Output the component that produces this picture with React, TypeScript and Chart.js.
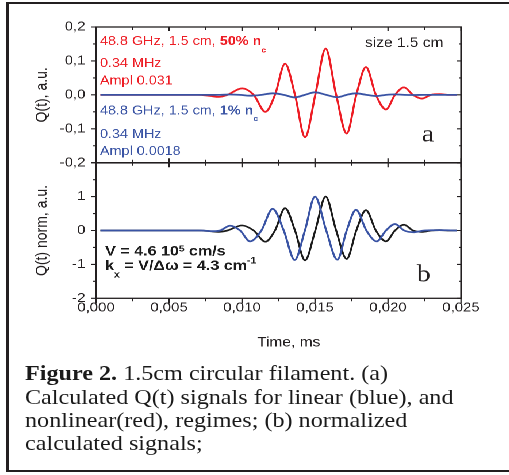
import React, { useEffect, useRef } from "react";
import { Chart, registerables } from "chart.js";

Chart.register(...registerables);

// ---------- data (time in ms) ----------
const tRed = [0.0003, 0.007, 0.0078, 0.0084, 0.009, 0.01, 0.0108, 0.0116, 0.01226, 0.01295, 0.01363, 0.01432, 0.01502, 0.01573, 0.01645, 0.01717, 0.01783, 0.01849, 0.01917, 0.01986, 0.02048, 0.0211, 0.02171, 0.02233, 0.02295, 0.02356, 0.0241, 0.0247];
const qRed = [0, 0, -0.003, -0.006, 0, 0.019, 0, -0.05, 0, 0.092, 0, -0.125, 0, 0.136, 0, -0.114, 0, 0.082, 0, -0.043, 0, 0.022, 0, -0.011, 0, 0.002, 0, 0];
const qBlackNorm = [0, 0, -0.02, -0.04, 0, 0.15, 0, -0.33, 0, 0.66, 0, -0.88, 0, 1.0, 0, -0.84, 0, 0.6, 0, -0.32, 0, 0.17, 0, -0.04, 0, 0.01, 0, 0];

const tBlue = [0.0003, 0.0072, 0.008, 0.0085, 0.00918, 0.00987, 0.01055, 0.01133, 0.0121, 0.01286, 0.01361, 0.01431, 0.015, 0.01577, 0.01653, 0.01717, 0.01781, 0.01852, 0.01923, 0.01986, 0.02048, 0.02111, 0.02173, 0.0225, 0.0235, 0.0247];
const qBlue = [0, 0, 0, 0, 0.001, 0, -0.0025, 0, 0.0045, 0, -0.0075, 0, 0.0075, 0, -0.007, 0, 0.0045, 0, -0.0035, 0, 0.0015, 0, -0.0005, 0, 0, 0];
const qBlueNorm = [0, 0, -0.02, 0, 0.14, 0, -0.32, 0, 0.64, 0, -0.87, 0, 1.0, 0, -0.86, 0, 0.61, 0, -0.32, 0, 0.19, 0, -0.05, 0, 0.01, 0];

// ---------- axes ----------
const xRange = [0, 0.025];
const xMajor = 0.005;
const xMinor = 0.0025;
const yARange = [-0.2, 0.2];
const yAMajor = 0.1;
const yAMinor = 0.05;
const yBRange = [-2, 2];
const yBMajor = 1;
const yBMinor = 0.5;

const xTitle = "Time, ms";
const yATitle = "Q(t), a.u.";
const yBTitle = "Q(t) norm, a.u.";

const captionBold = "Figure 2.";
const captionLines = [
  " 1.5cm circular filament. (a)",
  "Calculated Q(t) signals for linear (blue), and",
  "nonlinear(red), regimes; (b) normalized",
  "calculated signals;",
];

// ---------- style ----------
const S = 1.15; // horizontal stretch of the figure
const W = 443;
const L = 96 / S;
const R = 461 / S;
const RED = "#ed1c24";
const BLUE = "#3953a4";
const BLACK = "#1a1a1a";
const AXIS = "#231f20";
const FONT = '"Liberation Sans", Arial, Helvetica, sans-serif';
const SERIF = '"Liberation Serif", "Times New Roman", Times, serif';

type Run = { t: string; b?: boolean; sub?: boolean; sup?: boolean };
type Note = {
  x: number; y?: number; below?: number; runs: Run[]; size: number; color: string;
  family?: string; baseline?: CanvasTextBaseline; align?: CanvasTextAlign;
  subDy?: number; supDy?: number; small?: number;
};

function notesPlugin(notes: Note[]) {
  return {
    id: "notes",
    afterDatasetsDraw(chart: any) {
      const ctx = chart.ctx as CanvasRenderingContext2D;
      const xs = chart.scales.x, ys = chart.scales.y;
      ctx.save();
      for (const n of notes) {
        let cx = xs.getPixelForValue(n.x);
        const cy = n.below !== undefined ? chart.chartArea.bottom + n.below : ys.getPixelForValue(n.y);
        ctx.fillStyle = n.color;
        ctx.textBaseline = n.baseline ?? "middle";
        if (n.align === "center") {
          let tw = 0;
          for (const r of n.runs) {
            ctx.font = `${r.b ? "bold " : ""}${n.size}px ${n.family ?? FONT}`;
            tw += ctx.measureText(r.t).width;
          }
          cx -= tw / 2;
        }
        ctx.textAlign = "left";
        for (const r of n.runs) {
          const small = r.sub || r.sup;
          const fs = small ? n.size * (n.small ?? 0.62) : n.size;
          ctx.font = `${r.b ? "bold " : ""}${fs}px ${n.family ?? FONT}`;
          const dy = r.sub ? n.size * (n.subDy ?? 0.6) : r.sup ? -n.size * (n.supDy ?? 0.25) : 0;
          ctx.fillText(r.t, cx, cy + dy);
          cx += ctx.measureText(r.t).width;
        }
      }
      ctx.restore();
    },
  };
}

type Side = { dir: "in" | "out" | "cross"; maj: number; min: number };
type FrameSpec = { left?: Side; right?: Side; top?: Side; bottom?: Side };

function values(min: number, max: number, step: number) {
  const out: number[] = [];
  const n = Math.round((max - min) / step);
  for (let i = 0; i <= n; i++) out.push(min + i * step);
  return out;
}
function isMajor(v: number, step: number) {
  const k = v / step;
  return Math.abs(k - Math.round(k)) < 1e-6;
}

function framePlugin(spec: FrameSpec, xs: [number, number, number, number], ysSteps: [number, number, number, number]) {
  return {
    id: "frame",
    afterDatasetsDraw(chart: any) {
      const ctx = chart.ctx as CanvasRenderingContext2D;
      const a = chart.chartArea;
      const sx = chart.scales.x, sy = chart.scales.y;
      ctx.save();
      ctx.strokeStyle = AXIS;
      ctx.lineWidth = 1.3;
      ctx.strokeRect(a.left, a.top, a.right - a.left, a.bottom - a.top);
      ctx.lineWidth = 1.1;
      ctx.beginPath();
      const xv = values(xs[0], xs[1], xs[3]);
      const yv = values(ysSteps[0], ysSteps[1], ysSteps[3]);
      const hor = (side: Side | undefined, yPos: number, outSign: number) => {
        if (!side) return;
        for (const v of xv) {
          const px = sx.getPixelForValue(v);
          const len = isMajor(v, xs[2]) ? side.maj : side.min;
          let y0 = yPos, y1 = yPos;
          if (side.dir === "out") y1 = yPos + outSign * len;
          else if (side.dir === "in") y1 = yPos - outSign * len;
          else { y0 = yPos - len; y1 = yPos + len; }
          ctx.moveTo(px, y0); ctx.lineTo(px, y1);
        }
      };
      const ver = (side: Side | undefined, xPos: number, outSign: number) => {
        if (!side) return;
        for (const v of yv) {
          const py = sy.getPixelForValue(v);
          const len = (isMajor(v, ysSteps[2]) ? side.maj : side.min) / S;
          let x0 = xPos, x1 = xPos;
          if (side.dir === "out") x1 = xPos + outSign * len;
          else if (side.dir === "in") x1 = xPos - outSign * len;
          else { x0 = xPos - len; x1 = xPos + len; }
          ctx.moveTo(x0, py); ctx.lineTo(x1, py);
        }
      };
      hor(spec.top, a.top, -1);
      hor(spec.bottom, a.bottom, 1);
      ver(spec.left, a.left, -1);
      ver(spec.right, a.right, 1);
      ctx.stroke();
      ctx.restore();
    },
  };
}

const pts = (t: number[], q: number[]) => t.map((x, i) => ({ x, y: q[i] }));

const lineDs = (data: { x: number; y: number }[], color: string, width: number) => ({
  data,
  borderColor: color,
  borderWidth: width,
  pointRadius: 0,
  fill: false,
  cubicInterpolationMode: "monotone" as const,
});

const tickFont = { family: FONT, size: 13 };
const titleFont = { family: FONT, size: 14 };

export default function App() {
  const refA = useRef<HTMLCanvasElement>(null);
  const refB = useRef<HTMLCanvasElement>(null);

  useEffect(() => {
    const hA = 175;
    const hB = 215;
    const topB = 150;

    const annA: Note[] = [
      { x: 0.00027, y: 0.1567, size: 12.5, color: RED, subDy: 0.68, small: 0.6,
        runs: [{ t: "48.8 GHz, 1.5 cm, " }, { t: "50% n", b: true }, { t: "c", b: true, sub: true }] },
      { x: 0.00027, y: 0.093, size: 12.5, color: RED, runs: [{ t: "0.34 MHz" }] },
      { x: 0.00027, y: 0.0408, size: 12.5, color: RED, runs: [{ t: "Ampl 0.031" }] },
      { x: 0.00027, y: -0.0476, size: 12.5, color: BLUE, subDy: 0.62, small: 0.6,
        runs: [{ t: "48.8 GHz, 1.5 cm, " }, { t: "1% n", b: true }, { t: "c", b: true, sub: true }] },
      { x: 0.00027, y: -0.1163, size: 12.5, color: BLUE, runs: [{ t: "0.34 MHz" }] },
      { x: 0.00027, y: -0.1676, size: 12.5, color: BLUE, runs: [{ t: "Ampl 0.0018" }] },
      { x: 0.01842, y: 0.152, size: 13.5, color: AXIS, runs: [{ t: "size 1.5 cm" }] },
      { x: 0.02231, y: -0.138, size: 24, color: AXIS, family: SERIF, baseline: "alphabetic", runs: [{ t: "a" }] },
    ];

    const annB: Note[] = [
      { x: 0.00062, y: -0.625, size: 14, color: BLACK, supDy: 0.2, small: 0.62,
        runs: [{ t: "V = 4.6 10", b: true }, { t: "5", b: true, sup: true }, { t: " cm/s", b: true }] },
      { x: 0.00062, y: -1.047, size: 14, color: BLACK, subDy: 0.65, supDy: 0.35, small: 0.65,
        runs: [{ t: "k", b: true }, { t: "x", b: true, sub: true }, { t: " = V/\u0394\u03c9 = 4.3 cm", b: true }, { t: "-1", b: true, sup: true }] },
      { x: 0.02197, y: -1.51, size: 24, color: AXIS, family: SERIF, baseline: "alphabetic", runs: [{ t: "b" }] },
      { x: 0.0132, below: 44.4, size: 13.5, color: AXIS, align: "center", runs: [{ t: xTitle }] },
    ];

    const chartA = new Chart(refA.current as HTMLCanvasElement, {
      type: "line",
      data: {
        datasets: [
          lineDs(pts(tBlue, qBlue), BLUE, 1.8),
          lineDs(pts(tRed, qRed), RED, 1.8),
        ],
      },
      options: {
        responsive: false,
        animation: false,
        devicePixelRatio: 2,
        layout: { padding: { left: 0, right: W - R, top: 27, bottom: 0 } },
        plugins: { legend: { display: false }, tooltip: { enabled: false } },
        scales: {
          x: {
            type: "linear", min: xRange[0], max: xRange[1],
            ticks: { display: false, stepSize: xMajor },
            grid: { display: false, drawTicks: false },
            border: { display: false },
            afterFit: (s: any) => { s.height = hA - 162.7; },
          },
          y: {
            type: "linear", min: yARange[0], max: yARange[1],
            ticks: {
              stepSize: yAMajor, font: tickFont, color: AXIS, padding: 3.2,
              callback: (v: any) => { const n = Number(v); return Math.abs(n) < 1e-9 ? "0,0" : n.toFixed(1).replace(".", ","); },
            },
            grid: { display: false, drawTicks: true, tickLength: 6 },
            border: { display: false },
            title: { display: true, text: yATitle, font: titleFont, color: AXIS, padding: { top: 28.4, bottom: 0 } },
            afterFit: (s: any) => { s.width = L; },
          },
        },
      } as any,
      plugins: [
        framePlugin(
          { left: { dir: "out", maj: 5, min: 3 }, right: { dir: "in", maj: 4, min: 2 }, top: { dir: "in", maj: 4, min: 3 }, bottom: { dir: "cross", maj: 4.5, min: 3 } },
          [xRange[0], xRange[1], xMajor, xMinor],
          [yARange[0], yARange[1], yAMajor, yAMinor]
        ),
        notesPlugin(annA),
      ],
    });

    const chartB = new Chart(refB.current as HTMLCanvasElement, {
      type: "line",
      data: {
        datasets: [
          lineDs(pts(tBlue, qBlueNorm), BLUE, 1.8),
          lineDs(pts(tRed, qBlackNorm), BLACK, 1.7),
        ],
      },
      options: {
        responsive: false,
        animation: false,
        devicePixelRatio: 2,
        layout: { padding: { left: 0, right: W - R, top: 162.7 - topB, bottom: 0 } },
        plugins: { legend: { display: false }, tooltip: { enabled: false } },
        scales: {
          x: {
            type: "linear", min: xRange[0], max: xRange[1],
            ticks: {
              stepSize: xMajor, font: tickFont, color: AXIS, padding: 1.6, maxRotation: 0, autoSkip: false,
              callback: (v: any) => Number(v).toFixed(3).replace(".", ","),
            },
            grid: { display: false, drawTicks: false },
            border: { display: false },
            afterFit: (s: any) => { s.height = hB - (298.3 - topB); },
          },
          y: {
            type: "linear", min: yBRange[0], max: yBRange[1],
            ticks: {
              stepSize: yBMajor, font: tickFont, color: AXIS, padding: 3.2,
              callback: (v: any) => { const n = Math.round(Number(v)); return n === yBRange[1] ? "" : String(n); },
            },
            grid: { display: false, drawTicks: true, tickLength: 6 },
            border: { display: false },
            title: { display: true, text: yBTitle, font: titleFont, color: AXIS, padding: { top: 28.0, bottom: 0 } },
            afterFit: (s: any) => { s.width = L; },
          },
        },
      } as any,
      plugins: [
        framePlugin(
          { left: { dir: "out", maj: 5, min: 3 }, right: { dir: "in", maj: 4, min: 2 }, bottom: { dir: "out", maj: 5, min: 3 } },
          [xRange[0], xRange[1], xMajor, xMinor],
          [yBRange[0], yBRange[1], yBMajor, yBMinor]
        ),
        notesPlugin(annB),
      ],
    });

    return () => {
      chartA.destroy();
      chartB.destroy();
    };
  }, []);

  return (
    <div style={{ position: "fixed", left: 0, top: 0, width: 509, height: 475, background: "#fff", overflow: "hidden" }}>
      <div
        style={{
          position: "absolute", left: 6, top: 2, width: 600, height: 470, boxSizing: "border-box",
          borderLeft: `3px solid ${AXIS}`, borderTop: `2px solid ${AXIS}`, borderBottom: `2px solid ${AXIS}`,
        }}
      />
      <div style={{ position: "absolute", left: 0, top: 0, width: W, height: 365, transform: `scaleX(${S})`, transformOrigin: "0 0" }}>
        <canvas ref={refA} width={W} height={175} style={{ position: "absolute", left: 0, top: 0, width: W, height: 175 }} />
        <canvas ref={refB} width={W} height={215} style={{ position: "absolute", left: 0, top: 150, width: W, height: 215 }} />
      </div>
      <div
        style={{
          position: "absolute", left: 25, top: 362.2, fontFamily: SERIF, fontSize: 21, lineHeight: "23.4px",
          transform: `scaleX(${S})`, transformOrigin: "0 0", whiteSpace: "nowrap", color: "#1a1a1a",
        }}
      >
        <b>{captionBold}</b>
        {captionLines[0]}
        {captionLines.slice(1).map((l, i) => (
          <React.Fragment key={i}>
            <br />
            {l}
          </React.Fragment>
        ))}
      </div>
    </div>
  );
}
